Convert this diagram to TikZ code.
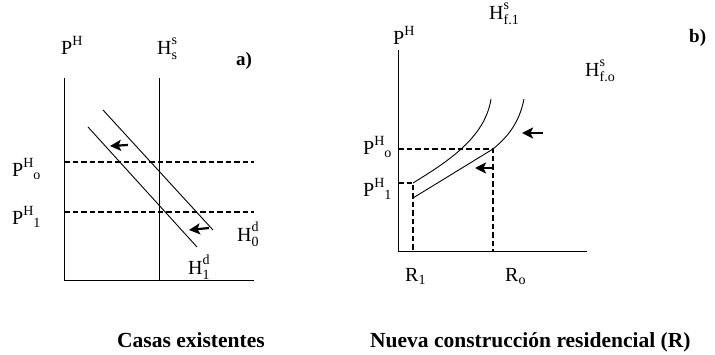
\documentclass[tikz,border=0pt]{standalone}
\usepackage{fontspec}
\setmainfont{Liberation Serif}
\usetikzlibrary{arrows.meta}
% letter with stacked super- and subscript
\newcommand{\scr}[1]{{\fontsize{14}{14}\selectfont #1}}
\newcommand{\stk}[3]{#1\rlap{\raisebox{0.5em}{\scr{#2}}}\raisebox{-0.25em}{\scr{#3}}}
\newcommand{\seq}[3]{#1\raisebox{0.45em}{\scr{#2}}\raisebox{-0.15em}{\scr{#3}}}
\tikzset{
  axis/.style={line width=0.9pt},
  lvl/.style={line width=1.6pt, dash pattern=on 5.5pt off 3pt},
  crv/.style={line width=0.9pt},
  mov/.style={-{Stealth[length=11pt,width=11pt,inset=2.5pt]}, line width=2.2pt},
  lab/.style={anchor=base west, inner sep=0pt, font=\fontsize{20}{22}\selectfont},
  tag/.style={anchor=base west, inner sep=0pt, font=\fontsize{19}{22}\selectfont\bfseries},
  foot/.style={anchor=base west, inner sep=0pt, font=\fontsize{21.5}{25}\selectfont\bfseries}
}

\begin{document}
\begin{tikzpicture}[x=1pt,y=-1pt]
  \useasboundingbox (0,0) rectangle (715,355);

  % a) casas existentes
  \coordinate (aO)  at (64,280);
  \coordinate (aY)  at (64,78);
  \coordinate (aX)  at (254,280);
  \coordinate (sT)  at (159,78);
  \coordinate (sB)  at (159,280);
  \coordinate (aLo) at (64,162);  \coordinate (aRo) at (254,162);
  \coordinate (aL1) at (64,212);  \coordinate (aR1) at (254,212);
  \coordinate (d0s) at (103,110); \coordinate (d0e) at (213,230);
  \coordinate (d1s) at (88,127);  \coordinate (d1e) at (197,247);
  \coordinate (m1s) at (128,145); \coordinate (m1e) at (110,146);
  \coordinate (m2s) at (209,228); \coordinate (m2e) at (189,230);

  \draw[axis] (aY) -- (aO) -- (aX);
  \draw[axis] (sT) -- (sB);
  \draw[lvl] (aLo) -- (aRo);
  \draw[lvl] (aL1) -- (aR1);
  \draw[crv] (d0s) -- (d0e);
  \draw[crv] (d1s) -- (d1e);
  \draw[mov] (m1s) -- (m1e);
  \draw[mov] (m2s) -- (m2e);

  \node[lab] (aPH)  at (61,55)   {\seq{P}{H}{}};
  \node[lab] (aHs)  at (157,55)  {\stk{H}{s}{s}};
  \node[tag] (aTag) at (236,66)  {a)};
  \node[lab] (aPo)  at (12,177)  {\seq{P}{H}{o}};
  \node[lab] (aP1)  at (12,225)  {\seq{P}{H}{1}};
  \node[lab] (aHd0) at (237,242) {\stk{H}{d}{0}};
  \node[lab] (aHd1) at (188,275) {\stk{H}{d}{1}};

  % b) nueva construccion
  \coordinate (bO)  at (398,251);
  \coordinate (bY)  at (398,50);
  \coordinate (bX)  at (587,251);
  \coordinate (bLo) at (398,149); \coordinate (bQo) at (493,149); \coordinate (bBo) at (493,251);
  \coordinate (bL1) at (398,183); \coordinate (bQ1) at (413,183); \coordinate (bB1) at (413,251);
  \coordinate (bS1) at (413,198);
  \coordinate (f1e) at (491,99);
  \coordinate (foe) at (524,99);
  \coordinate (n1s) at (543,133); \coordinate (n1e) at (522,133);
  \coordinate (n2s) at (493,168); \coordinate (n2e) at (475,168);

  \draw[axis] (bY) -- (bO) -- (bX);
  \draw[lvl] (bLo) -- (bQo) -- (bBo);
  \draw[lvl] (bL1) -- (bQ1) -- (bB1);
  \draw[crv] (bQ1) .. controls (447,162) and (485,138) .. (f1e);
  \draw[crv] (bS1) -- (bQo) .. controls (505,139) and (519,125) .. (foe);
  \draw[mov] (n1s) -- (n1e);
  \draw[mov] (n2s) -- (n2e);

  \node[lab] (bPH)  at (393,45)  {\seq{P}{H}{}};
  \node[lab] (bHf1) at (489,20)  {\stk{H}{s}{f.1}};
  \node[tag] (bTag) at (689,43)  {b)};
  \node[lab] (bHfo) at (585,77)  {\stk{H}{s}{f.o}};
  \node[lab] (bPo)  at (363,155) {\seq{P}{H}{o}};
  \node[lab] (bP1)  at (363,197) {\seq{P}{H}{1}};
  \node[lab] (bR1)  at (405,282) {R\raisebox{-0.15em}{\scr{1}}};
  \node[lab] (bRo)  at (505,282) {R\raisebox{-0.15em}{\scr{o}}};

  % pies
  \node[foot] (capA) at (117,348) {Casas existentes};
  \node[foot] (capB) at (370,348) {Nueva construcción residencial (R)};
\end{tikzpicture}
\end{document}
